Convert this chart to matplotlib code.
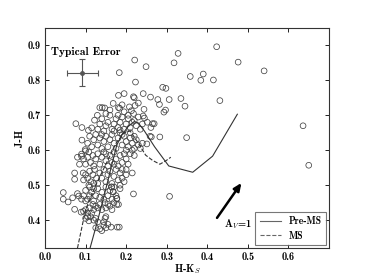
import matplotlib
matplotlib.use("Agg")
import matplotlib.pyplot as plt
import numpy as np

plt.rcParams['font.family'] = ['cmb10', 'DejaVu Serif']
plt.rcParams['mathtext.fontset'] = 'cm'
plt.rcParams['axes.unicode_minus'] = False

# Scatter data (H-Ks, J-H)
hk = [
 0.125,0.135,0.140,0.145,0.150,0.155,0.163,0.178,0.183,0.130,0.120,0.108,0.100,0.112,0.145,0.150,0.148,
 0.095,0.100,0.105,0.110,0.115,0.120,0.125,0.130,0.135,0.140,0.148,0.150,0.155,0.160,0.165,0.170,0.177,0.089,0.073,0.118,0.125,0.105,
 0.045,0.045,0.057,0.068,0.080,0.083,0.090,0.095,0.100,0.100,0.105,0.110,0.115,0.120,0.125,0.130,0.135,0.140,0.145,0.150,0.155,0.160,0.165,0.168,0.177,0.181,0.170,0.175,0.185,0.110,0.120,
 0.073,0.073,0.094,0.095,0.100,0.105,0.110,0.113,0.118,0.122,0.127,0.130,0.135,0.140,0.145,0.150,0.155,0.160,0.165,0.170,0.175,0.180,0.185,0.190,0.195,0.200,0.215,0.164,0.185,0.190,0.200,0.120,0.108,
 0.080,0.090,0.090,0.095,0.100,0.105,0.108,0.112,0.118,0.120,0.125,0.130,0.135,0.140,0.145,0.150,0.155,0.160,0.165,0.170,0.175,0.180,0.185,0.190,0.195,0.200,0.205,0.210,0.215,0.220,0.085,0.100,0.150,0.170,
 0.091,0.099,0.105,0.110,0.115,0.120,0.125,0.130,0.135,0.140,0.145,0.150,0.155,0.160,0.165,0.170,0.175,0.180,0.185,0.190,0.195,0.200,0.205,0.210,0.215,0.220,0.225,0.230,0.235,0.240,0.220,0.210,0.251,0.262,0.140,0.190,0.200,
 0.076,0.091,0.107,0.115,0.122,0.129,0.130,0.135,0.140,0.145,0.150,0.155,0.160,0.165,0.170,0.175,0.180,0.185,0.190,0.195,0.200,0.205,0.210,0.215,0.220,0.225,0.230,0.235,0.242,0.245,0.252,0.269,0.261,0.240,0.170,0.185,
 0.135,0.141,0.147,0.168,0.181,0.184,0.180,0.195,0.208,0.205,0.213,0.218,0.222,0.218,0.220,0.195,0.181,0.244,0.242,0.260,0.230,0.150,0.160,0.190,
 0.423,0.328,0.318,0.221,0.249,0.183,0.223,0.358,0.390,0.384,0.415,0.476,0.540,0.431,0.335,0.306,0.345,0.290,0.298,0.278,0.282,0.297,0.293,
 0.349,0.283,0.259,0.265,0.636,0.650,0.218,0.307,0.177,0.164,0.168,
]
jh = [
 0.378,0.375,0.370,0.385,0.378,0.388,0.380,0.380,0.380,0.395,0.400,0.398,0.405,0.410,0.395,0.410,0.405,
 0.425,0.430,0.420,0.435,0.420,0.430,0.440,0.435,0.445,0.430,0.450,0.435,0.445,0.440,0.430,0.450,0.445,0.423,0.431,0.445,0.405,0.410,
 0.479,0.460,0.452,0.464,0.476,0.469,0.460,0.470,0.455,0.485,0.460,0.470,0.480,0.455,0.470,0.490,0.465,0.480,0.460,0.495,0.470,0.485,0.460,0.481,0.462,0.445,0.495,0.470,0.490,0.495,0.490,
 0.535,0.517,0.535,0.515,0.530,0.520,0.540,0.510,0.530,0.545,0.520,0.505,0.535,0.520,0.545,0.510,0.530,0.540,0.505,0.525,0.545,0.515,0.535,0.520,0.510,0.530,0.535,0.495,0.500,0.545,0.545,0.505,0.500,
 0.580,0.589,0.583,0.575,0.560,0.580,0.595,0.565,0.585,0.555,0.575,0.590,0.560,0.580,0.595,0.570,0.555,0.585,0.565,0.595,0.575,0.555,0.585,0.565,0.590,0.575,0.560,0.590,0.600,0.585,0.560,0.598,0.590,0.560,
 0.629,0.602,0.620,0.640,0.610,0.630,0.645,0.615,0.635,0.605,0.625,0.640,0.610,0.630,0.645,0.620,0.605,0.635,0.650,0.615,0.640,0.625,0.610,0.635,0.620,0.640,0.630,0.615,0.605,0.620,0.605,0.650,0.618,0.638,0.645,0.645,0.600,
 0.676,0.665,0.657,0.664,0.686,0.700,0.660,0.675,0.690,0.655,0.670,0.680,0.700,0.660,0.675,0.690,0.665,0.680,0.695,0.660,0.675,0.690,0.665,0.680,0.685,0.670,0.695,0.660,0.698,0.692,0.680,0.676,0.665,0.675,0.655,0.658,
 0.722,0.722,0.721,0.734,0.722,0.720,0.700,0.710,0.724,0.700,0.713,0.705,0.728,0.753,0.750,0.762,0.757,0.717,0.762,0.752,0.735,0.705,0.715,0.730,
 0.896,0.877,0.850,0.858,0.839,0.822,0.795,0.811,0.818,0.800,0.801,0.852,0.827,0.742,0.748,0.745,0.726,0.780,0.777,0.745,0.731,0.715,0.709,
 0.636,0.638,0.640,0.676,0.670,0.557,0.475,0.468,0.462,0.495,0.481,
]

# Isochrones
pre_ms_x = [0.111, 0.130, 0.150, 0.165, 0.177, 0.190, 0.205, 0.220, 0.230, 0.245, 0.270, 0.305, 0.364, 0.413, 0.474]
pre_ms_y = [0.320, 0.400, 0.490, 0.560, 0.615, 0.645, 0.668, 0.682, 0.678, 0.655, 0.610, 0.555, 0.537, 0.583, 0.703]
ms_x = [0.080, 0.100, 0.125, 0.150, 0.175, 0.195, 0.210, 0.230, 0.248, 0.265, 0.283, 0.298, 0.310]
ms_y = [0.320, 0.430, 0.500, 0.560, 0.620, 0.650, 0.655, 0.620, 0.586, 0.571, 0.560, 0.570, 0.580]

# Typical error
err_x, err_y, err_dx, err_dy = 0.092, 0.822, 0.039, 0.039
# Reddening vector A_V = 1
av_start = (0.420, 0.400)
av_end = (0.488, 0.513)

fig = plt.figure(figsize=(3.66, 2.76), dpi=100)
ax = fig.add_axes([0.123, 0.101, 0.776, 0.798])

ax.scatter(hk, jh, s=17, facecolors='none', edgecolors='#444444', linewidths=0.55, zorder=2)
ax.plot(pre_ms_x, pre_ms_y, '-', color='#333333', lw=0.8, label='Pre-MS', zorder=3)
ax.plot(ms_x, ms_y, '--', color='#333333', lw=0.8, label='MS', zorder=3)

ax.errorbar([err_x], [err_y], xerr=[err_dx], yerr=[err_dy], fmt='o', color='#555555',
            ms=2.5, capsize=2, elinewidth=0.8, capthick=0.8)
ax.text(0.015, 0.882, 'Typical Error', fontsize=8.3, va='center', ha='left')

ax.annotate('', xy=av_end, xytext=av_start,
            arrowprops=dict(arrowstyle='-|>,head_length=0.45,head_width=0.2', color='black', lw=1.8))
ax.text(0.441, 0.388, r'A$_V$=1', fontsize=7.5, va='center', ha='left')

ax.set_xlim(0.0, 0.70)
ax.set_ylim(0.32, 0.95)
ax.set_xticks([0.0, 0.1, 0.2, 0.3, 0.4, 0.5, 0.6])
ax.set_yticks([0.4, 0.5, 0.6, 0.7, 0.8, 0.9])
ax.tick_params(direction='in', top=True, right=True, labelsize=7.5, length=3, width=0.6, pad=3)
for sp in ax.spines.values():
    sp.set_linewidth(0.8)
    sp.set_color('#333333')
ax.set_xlabel(r'H-K$_S$', fontsize=7.5, labelpad=0)
ax.set_ylabel('J-H', fontsize=7.5, labelpad=2)

leg = ax.legend(loc='lower right', fontsize=7, frameon=True, fancybox=False,
                edgecolor='#555555', handlelength=2.2, borderaxespad=0.3, borderpad=0.45,
                labelspacing=0.45)
leg.get_frame().set_linewidth(0.8)
for h in leg.get_lines():
    h.set_color('#666666')

fig.savefig('out.png', dpi=100)
